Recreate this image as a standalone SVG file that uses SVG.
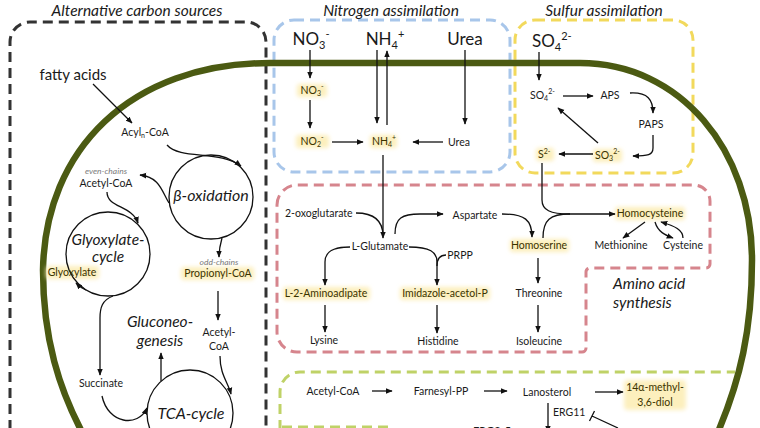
<svg xmlns="http://www.w3.org/2000/svg" width="760" height="428" viewBox="0 0 760 428">
<defs>
<style>
text{font-family:Lato,"Noto Sans","DejaVu Sans",sans-serif;fill:#1a1a1a}
.t{font-size:15.5px;font-style:italic;text-anchor:middle}
.s{font-size:10.5px;text-anchor:middle}
.b{font-size:17px;text-anchor:middle}
.c{font-size:15.5px;font-style:italic;text-anchor:middle}
.g{font-size:8.5px;font-style:italic;fill:#7a7a7a;text-anchor:middle}
.h{fill:#3b3300}
.hl{fill:#fcefbd;filter:url(#glow)}
.box{fill:none;stroke-width:3;stroke-dasharray:10 6}
.ln{fill:none;stroke:#111;stroke-width:1.3}
.ar{marker-end:url(#ah)}
.cir{fill:none;stroke:#111;stroke-width:1.3}
</style>
<filter id="glow" x="-20%" y="-50%" width="140%" height="200%"><feGaussianBlur stdDeviation="2"/></filter>
<marker id="ah" viewBox="0 0 10 10" refX="9" refY="5" markerWidth="7" markerHeight="7" markerUnits="userSpaceOnUse" orient="auto"><path d="M0,1 L10,5 L0,9 z" fill="#111"/></marker>
</defs>
<rect width="760" height="428" fill="#fff"/>

<g id="boxes">
<path class="box" stroke="#333" d="M10 430 L10 42 A20 20 0 0 1 30 22 L246 22 A20 20 0 0 1 266 42 L266 430"/>
<rect class="box" stroke="#a8c6ea" x="274" y="20" width="236" height="152" rx="20"/>
<rect class="box" stroke="#f2d95c" x="515" y="20" width="178" height="153" rx="20"/>
<path class="box" stroke="#d6858d" d="M277 205 A20 20 0 0 1 297 185 L694 185 A16 16 0 0 1 710 201 L710 264 A4 4 0 0 1 706 268 L590 268 A4 4 0 0 0 586 272 L586 348 A4 4 0 0 1 582 352 L297 352 A20 20 0 0 1 277 332 Z"/>
<path class="box" stroke="#bfd267" d="M280 430 L280 392 A20 20 0 0 1 300 372 L735 372 M282 427 L393 427"/>
</g>

<g id="membrane">
<path d="M82 432 C60 390 43 340 43 270 C45 150 130 63 270 63 L580 63 C680 63 752 150 752 260 C752 330 740 380 718 432" fill="none" stroke="#4b5a12" stroke-width="6.5"/>
</g>

<g id="titles">
<text class="t" x="137" y="15.5">Alternative carbon sources</text>
<text class="t" x="391" y="15.5">Nitrogen assimilation</text>
<text class="t" x="604" y="15.5">Sulfur assimilation</text>
</g>

<g id="highlights">
<rect class="hl" x="46" y="266" width="53" height="13" rx="3"/>
<rect class="hl" x="181" y="267" width="73" height="13" rx="3"/>
<rect class="hl" x="297" y="84" width="30" height="13" rx="3"/>
<rect class="hl" x="296" y="135" width="33" height="13" rx="3"/>
<rect class="hl" x="370" y="135" width="27" height="13" rx="3"/>
<rect class="hl" x="593" y="149" width="29" height="13" rx="3"/>
<rect class="hl" x="536" y="148" width="18" height="13" rx="3"/>
<rect class="hl" x="283" y="287" width="87" height="13" rx="3"/>
<rect class="hl" x="400" y="287" width="90" height="13" rx="3"/>
<rect class="hl" x="510" y="239" width="59" height="13" rx="3"/>
<rect class="hl" x="615" y="207" width="70" height="13" rx="3"/>
<rect class="hl" x="624" y="380" width="62" height="30" rx="4"/>
</g>

<g id="cycles">
<circle class="cir" cx="211" cy="197" r="42"/>
<circle class="cir" cx="108" cy="254" r="42"/>
<circle class="cir" cx="190" cy="413" r="43"/>
</g>

<g id="connectors">
<path class="ln ar" d="M93 84 L132 123"/>
<path class="ln ar" d="M167 145 C180 160 220 150 241 166"/>
<path class="ln ar" d="M169 203 C162 192 160 177 140 175"/>
<path class="ln ar" d="M107 192 C107 208 132 205 138 223"/>
<path class="ln ar" d="M113 296 C102 300 100 308 100 318 L100 375"/>
<path class="ln ar" d="M86 290 Q81 288 76 283"/>
<path class="ln ar" d="M222 238 C220 245 219 250 219 257"/>
<path class="ln ar" d="M218 291 L218 320"/>
<path class="ln ar" d="M220 356 C220 375 228 382 231 394"/>
<path class="ln ar" d="M102 396 C108 424 138 428 147 408"/>
<path class="ln ar" d="M161 381 L161 353"/>

<path class="ln ar" d="M310 50 L310 78"/>
<path class="ln ar" d="M310 100 L310 128"/>
<path class="ln ar" d="M332 142 L363 142"/>
<path class="ln ar" d="M377 50 L377 123"/>
<path class="ln ar" d="M387 125 L387 51"/>
<path class="ln ar" d="M465 50 L465 124"/>
<path class="ln ar" d="M443 142 L413 142"/>
<path class="ln ar" d="M383 155 L383 238"/>
<path class="ln" d="M356 213 C375 213 383 222 383 236"/>

<path class="ln ar" d="M539 52 L539 80"/>
<path class="ln ar" d="M563 96 L593 96"/>
<path class="ln ar" d="M630 93 C648 92 653 100 653 113"/>
<path class="ln ar" d="M653 135 L653 148 C653 155 648 156 633 156"/>
<path class="ln ar" d="M598 143 L558 108"/>
<path class="ln ar" d="M593 154 L559 154"/>
<path class="ln ar" d="M542 163 L542 200 C542 210 550 214 570 214 L615 214"/>

<path class="ln ar" d="M395 234 C395 218 402 214 420 214 L443 214"/>
<path class="ln ar" d="M502 214 C525 214 532 220 532 237"/>
<path class="ln" d="M543 238 C543 220 550 214 570 214"/>
<path class="ln ar" d="M350 247 C332 247 325 252 325 262 L325 285"/>
<path class="ln ar" d="M409 247 C430 247 437 252 437 262 L437 285"/>
<path class="ln" d="M446 255 C440 255 437 258 437 266"/>
<path class="ln ar" d="M325 305 L325 332"/>
<path class="ln ar" d="M437 305 L437 333"/>
<path class="ln ar" d="M538 258 L538 283"/>
<path class="ln ar" d="M538 305 L538 332"/>
<path class="ln ar" d="M645 222 L623 238"/>
<path class="ln ar" d="M655 222 C658 232 665 235 673 238"/>
<path class="ln ar" d="M683 238 C683 230 675 226 661 222"/>

<path class="ln ar" d="M372 391 L392 391"/>
<path class="ln ar" d="M484 391 L507 391"/>
<path class="ln ar" d="M595 392 L623 392"/>
<path class="ln ar" d="M548 403 L548 432"/>
<path class="ln" d="M618 428 L592 416 M589.5 421 L594.5 411"/>
</g>

<g id="n-fatty"><text class="b" x="73" y="80" style="font-size:15px">fatty acids</text></g>
<g id="n-acyl"><text class="s" x="145" y="136">Acyl<tspan font-size="7" dy="2">n</tspan><tspan dy="-2">-CoA</tspan></text></g>
<g id="n-box"><text class="c" x="211" y="201" style="font-size:16px">β-oxidation</text></g>
<g id="n-acetyl1"><text class="g" x="106" y="174">even-chains</text><text class="s" x="106" y="187">Acetyl-CoA</text></g>
<g id="n-glyoxcycle"><text class="c" x="108" y="245">Glyoxylate-</text><text class="c" x="108" y="262">cycle</text></g>
<g id="n-glyoxylate"><text class="s h" x="72" y="276">Glyoxylate</text></g>
<g id="n-propionyl"><text class="g" x="219" y="265">odd-chains</text><text class="s h" x="218" y="277">Propionyl-CoA</text></g>
<g id="n-acetyl2"><text class="s" x="219" y="336">Acetyl-</text><text class="s" x="219" y="350">CoA</text></g>
<g id="n-gluco"><text class="c" x="160" y="327">Gluconeo-</text><text class="c" x="160" y="346">genesis</text></g>
<g id="n-succinate"><text class="s" x="101" y="387">Succinate</text></g>
<g id="n-tca"><text class="c" x="191" y="419" style="font-size:16px">TCA-cycle</text></g>

<g id="n-no3out"><text class="b" x="311" y="45">NO<tspan font-size="11" dy="4">3</tspan><tspan font-size="11" dy="-11">-</tspan></text></g>
<g id="n-nh4out"><text class="b" x="385" y="45">NH<tspan font-size="11" dy="4">4</tspan><tspan font-size="11" dy="-11">+</tspan></text></g>
<g id="n-ureaout"><text class="b" x="465" y="45">Urea</text></g>
<g id="n-no3in"><text class="s h" x="312" y="94">NO<tspan font-size="7" dy="2">3</tspan><tspan font-size="7" dy="-7">-</tspan></text></g>
<g id="n-no2"><text class="s h" x="312" y="145">NO<tspan font-size="7" dy="2">2</tspan><tspan font-size="7" dy="-7">-</tspan></text></g>
<g id="n-nh4in"><text class="s h" x="384" y="145">NH<tspan font-size="7" dy="2">4</tspan><tspan font-size="7" dy="-7">+</tspan></text></g>
<g id="n-ureain"><text class="s" x="459" y="146">Urea</text></g>

<g id="n-so4out"><text class="b" x="532" y="47" style="text-anchor:start">SO<tspan font-size="11" dy="4">4</tspan><tspan font-size="11" dy="-11">2-</tspan></text></g>
<g id="n-so4in"><text class="s" x="530" y="99" style="text-anchor:start">SO<tspan font-size="7" dy="2">4</tspan><tspan font-size="7" dy="-7">2-</tspan></text></g>
<g id="n-aps"><text class="s" x="610" y="99">APS</text></g>
<g id="n-paps"><text class="s" x="651" y="128">PAPS</text></g>
<g id="n-so3"><text class="s h" x="595" y="159" style="text-anchor:start">SO<tspan font-size="7" dy="2">3</tspan><tspan font-size="7" dy="-7">2-</tspan></text></g>
<g id="n-s2"><text class="s h" x="538" y="158" style="text-anchor:start">S<tspan font-size="7" dy="-4">2-</tspan></text></g>

<g id="n-oxo"><text class="s" x="285" y="217" style="text-anchor:start">2-oxoglutarate</text></g>
<g id="n-asp"><text class="s" x="475" y="219">Aspartate</text></g>
<g id="n-glu"><text class="s" x="380" y="250">L-Glutamate</text></g>
<g id="n-prpp"><text class="s" x="460" y="259">PRPP</text></g>
<g id="n-aminoadipate"><text class="s h" x="326" y="297">L-2-Aminoadipate</text></g>
<g id="n-imidazole"><text class="s h" x="445" y="297">Imidazole-acetol-P</text></g>
<g id="n-lysine"><text class="s" x="324" y="344">Lysine</text></g>
<g id="n-histidine"><text class="s" x="438" y="345">Histidine</text></g>
<g id="n-homoserine"><text class="s h" x="539" y="249">Homoserine</text></g>
<g id="n-threonine"><text class="s" x="539" y="297">Threonine</text></g>
<g id="n-isoleucine"><text class="s" x="539" y="345">Isoleucine</text></g>
<g id="n-homocysteine"><text class="s h" x="650" y="217">Homocysteine</text></g>
<g id="n-methionine"><text class="s" x="621" y="249">Methionine</text></g>
<g id="n-cysteine"><text class="s" x="683" y="249">Cysteine</text></g>
<g id="n-aas"><text class="c" x="613" y="289" style="text-anchor:start">Amino acid</text><text class="c" x="613" y="308" style="text-anchor:start">synthesis</text></g>

<g id="n-acetyl3"><text class="s" x="333" y="395">Acetyl-CoA</text></g>
<g id="n-farnesyl"><text class="s" x="441" y="395">Farnesyl-PP</text></g>
<g id="n-lanosterol"><text class="s" x="547" y="396">Lanosterol</text></g>
<g id="n-methyl"><text class="s h" x="655" y="391">14α-methyl-</text><text class="s h" x="655" y="406">3,6-diol</text></g>
<g id="n-erg11"><text class="s" x="553" y="416" style="text-anchor:start">ERG11</text></g>
<g id="n-erg25"><text class="s" x="473" y="435" style="text-anchor:start;font-size:11px">ERG2-5</text></g>
</svg>
